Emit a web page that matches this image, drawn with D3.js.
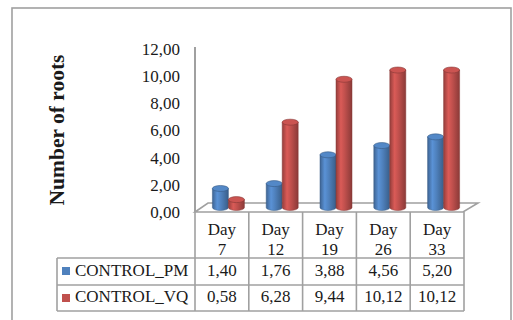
<!DOCTYPE html>
<html>
<head>
<meta charset="utf-8">
<script src="https://cdn.jsdelivr.net/npm/d3@7"></script>
<style>
  html, body { margin: 0; padding: 0; background: #fff; }
  svg { display: block; }
  text { font-family: "Liberation Serif", "Times New Roman", serif; fill: #1a1a1a; }
</style>
</head>
<body>
<svg id="chart" width="513" height="320"></svg>
<script>
// ---- data ----
const categories = ["Day 7", "Day 12", "Day 19", "Day 26", "Day 33"];
const seriesNames = ["CONTROL_PM", "CONTROL_VQ"];
const controlPM = [1.40, 1.76, 3.88, 4.56, 5.20];
const controlVQ = [0.58, 6.28, 9.44, 10.12, 10.12];
const yTicks = [0, 2, 4, 6, 8, 10, 12];
const yTitle = "Number of roots";

const series = [
  { name: seriesNames[0], values: controlPM, color: "#4F81BD" },
  { name: seriesNames[1], values: controlVQ, color: "#C0504D" }
];

const serif = "Liberation Serif, Times New Roman, serif";
const fs = 17;
const fmt = v => d3.format(".2f")(v).replace(".", ",");

const svg = d3.select("#chart");
const grid = "#a0a0a0";

// outer chart frame
svg.append("rect")
  .attr("x", 12).attr("y", 8).attr("width", 499).attr("height", 340)
  .attr("fill", "#fff").attr("stroke", grid).attr("stroke-width", 1.6);

// layout
const plotLeft = 195, plotRight = 464;
const y0 = 212, yTop = 49;
const depthX = 13, depthY = -9;           // floor depth offset
const midX = depthX / 2, midY = depthY / 2;

const x = d3.scaleBand().domain(categories).range([plotLeft, plotRight]).padding(0);
const y = d3.scaleLinear().domain([0, 12]).range([y0, yTop]);

// gradients for cylinder shading
const defs = svg.append("defs");
series.forEach((s, i) => {
  const c = d3.color(s.color);
  const g = defs.append("linearGradient").attr("id", "cyl" + i)
    .attr("x1", "0%").attr("x2", "100%").attr("y1", "0%").attr("y2", "0%");
  g.append("stop").attr("offset", "0%").attr("stop-color", c.darker(0.7));
  g.append("stop").attr("offset", "30%").attr("stop-color", c.brighter(0.35));
  g.append("stop").attr("offset", "55%").attr("stop-color", c);
  g.append("stop").attr("offset", "100%").attr("stop-color", c.darker(0.9));
});

// floor
svg.append("path")
  .attr("d", `M${plotLeft},${y0} L${plotLeft + depthX},${y0 + depthY} L${plotRight + depthX + 1},${y0 + depthY} L${plotRight - 1},${y0} Z`)
  .attr("fill", "#fff").attr("stroke", grid).attr("stroke-width", 1.6);

// vertical axis line
svg.append("line")
  .attr("x1", plotLeft).attr("x2", plotLeft)
  .attr("y1", yTop - 2).attr("y2", y0)
  .attr("stroke", grid).attr("stroke-width", 2);

// axis tick labels
const axis = d3.axisLeft(y).tickValues(yTicks).tickFormat(fmt).tickSize(0).tickPadding(15);
const ag = svg.append("g").attr("transform", `translate(${plotLeft},0)`).call(axis)
  .attr("font-family", serif).attr("font-size", fs);
ag.select(".domain").remove();
ag.selectAll("text")
  .attr("font-family", serif)
  .attr("font-size", fs).attr("fill", "#1a1a1a");

// axis title
svg.append("text")
  .attr("transform", "translate(64,130) rotate(-90)")
  .attr("text-anchor", "middle")
  .attr("font-family", serif)
  .attr("font-size", 21.5).attr("font-weight", "bold")
  .text(yTitle);

// cylinders
const bw = 16, ry = 3;
const bars = svg.append("g");
categories.forEach((cat, ci) => {
  const cx = x(cat) + x.bandwidth() / 2 + midX;
  series.forEach((s, si) => {
    const v = s.values[ci];
    const x0 = cx - bw + si * bw;
    const yb = y(0) + midY;
    const yt = y(v) + midY;
    const rx = bw / 2;
    bars.append("path")
      .attr("d", `M${x0},${yt} L${x0},${yb} A${rx},${ry} 0 0 0 ${x0 + bw},${yb} L${x0 + bw},${yt} Z`)
      .attr("fill", `url(#cyl${si})`)
      .attr("stroke", d3.color(s.color).darker(1)).attr("stroke-width", 0.5);
    bars.append("ellipse")
      .attr("cx", x0 + rx).attr("cy", yt).attr("rx", rx).attr("ry", ry)
      .attr("fill", d3.color(s.color).brighter(0.15))
      .attr("stroke", d3.color(s.color).darker(1)).attr("stroke-width", 0.6);
  });
});

// data table
const row1 = [258, 285], row2 = [285, 311];
const labelLeft = 57;
const tg = svg.append("g").attr("font-family", serif).attr("font-size", fs);
const lineAttr = sel => sel.attr("stroke", grid).attr("stroke-width", 1.6);

// horizontal lines
lineAttr(tg.append("line").attr("x1", labelLeft).attr("x2", plotRight).attr("y1", row1[0]).attr("y2", row1[0]));
lineAttr(tg.append("line").attr("x1", labelLeft).attr("x2", plotRight).attr("y1", row2[0]).attr("y2", row2[0]));
lineAttr(tg.append("line").attr("x1", labelLeft).attr("x2", plotRight).attr("y1", row2[1]).attr("y2", row2[1]));
// vertical lines
lineAttr(tg.append("line").attr("x1", labelLeft).attr("x2", labelLeft).attr("y1", row1[0]).attr("y2", row2[1]));
categories.concat([null]).forEach(cat => {
  const xx = cat ? x(cat) : plotRight;
  lineAttr(tg.append("line").attr("x1", xx).attr("x2", xx).attr("y1", y0).attr("y2", row2[1]));
});

// category headers
categories.forEach(cat => {
  const cx = x(cat) + x.bandwidth() / 2;
  const parts = cat.split(" ");
  tg.append("text").attr("x", cx).attr("y", 235).attr("text-anchor", "middle").text(parts[0]);
  tg.append("text").attr("x", cx).attr("y", 255).attr("text-anchor", "middle").text(parts[1]);
});

// series rows
[row1, row2].forEach((row, si) => {
  const s = series[si];
  const base = row[1] - 9;
  tg.append("rect").attr("x", 62).attr("y", row[0] + 9).attr("width", 8).attr("height", 8)
    .attr("fill", s.color);
  tg.append("text").attr("x", 75).attr("y", base).text(s.name);
  categories.forEach((cat, ci) => {
    tg.append("text").attr("x", x(cat) + x.bandwidth() / 2).attr("y", base)
      .attr("text-anchor", "middle").text(fmt(s.values[ci]));
  });
});
</script>
</body>
</html>
